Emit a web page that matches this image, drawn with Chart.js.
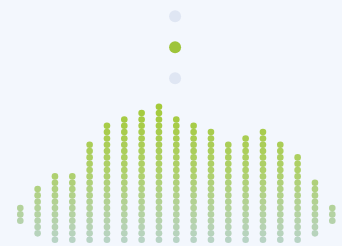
<!DOCTYPE html>
<html>
<head>
<meta charset="utf-8">
<script src="https://cdn.jsdelivr.net/npm/chart.js@4/dist/chart.umd.min.js"></script>
<style>
  html, body { margin: 0; padding: 0; background: #f3f7fd; }
  #wrap { width: 342px; height: 246px; }
</style>
</head>
<body>
<div id="wrap"><canvas id="c" width="342" height="246"></canvas></div>
<script>
// Columns (categories) and the range of stacked dots in each column (row index, inclusive)
const categories = ['1','2','3','4','5','6','7','8','9','10','11','12','13','14','15','16','17','18','19'];
const dotLow  = [3, 1, 0, 0, 0, 0, 0, 0, 0, 0, 0, 0, 0, 0, 0, 0, 0, 1, 3];
const dotHigh = [5, 8, 10, 10, 15, 18, 19, 20, 21, 19, 18, 17, 15, 16, 17, 15, 13, 9, 5];
// Indicator dots above the chart (category index, row value, active flag)
const indicatorCategory = 8.93;
const indicatorRows = [35.3, 30.4, 25.5];
const indicatorActive = [false, true, false];

const maxRow = Math.max(...dotHigh);

const dots = [];
categories.forEach((c, i) => {
  for (let r = dotLow[i]; r <= dotHigh[i]; r++) dots.push({ x: i, y: r });
});

function mix(a, b, t) {
  return a.map((v, k) => Math.round(v + (b[k] - v) * t));
}
const cTop = [164, 202, 58], cMid = [174, 208, 108], cBot = [184, 211, 196];
function dotColor(ctx) {
  const p = ctx.raw;
  if (!p) return 'rgb(' + cMid.join(',') + ')';
  const t = p.y / maxRow; // 0 bottom, 1 top
  let c;
  if (t >= 0.5) c = mix(cMid, cTop, (t - 0.5) / 0.5);
  else c = mix(cBot, cMid, t / 0.5);
  return 'rgb(' + c.join(',') + ')';
}

const indicator = indicatorRows.map(r => ({ x: indicatorCategory, y: r }));

new Chart(document.getElementById('c'), {
  type: 'scatter',
  data: {
    datasets: [
      {
        data: dots,
        pointRadius: 3.3,
        pointHoverRadius: 3.3,
        borderWidth: 0,
        pointBorderWidth: 0,
        backgroundColor: dotColor,
        clip: false
      },
      {
        data: indicator,
        pointRadius: 6,
        pointHoverRadius: 6,
        pointBorderWidth: 0,
        backgroundColor: indicatorActive.map(a => a ? '#9ec43a' : '#dfe6f3'),
        clip: false
      }
    ]
  },
  options: {
    responsive: false,
    animation: false,
    events: [],
    layout: { padding: 0, autoPadding: false },
    plugins: { legend: { display: false }, tooltip: { enabled: false } },
    scales: {
      x: { type: 'linear', display: false, min: -1.171, max: 18.56 },
      y: { type: 'linear', display: false, min: -0.995, max: 37.87 }
    }
  }
});
</script>
</body>
</html>
